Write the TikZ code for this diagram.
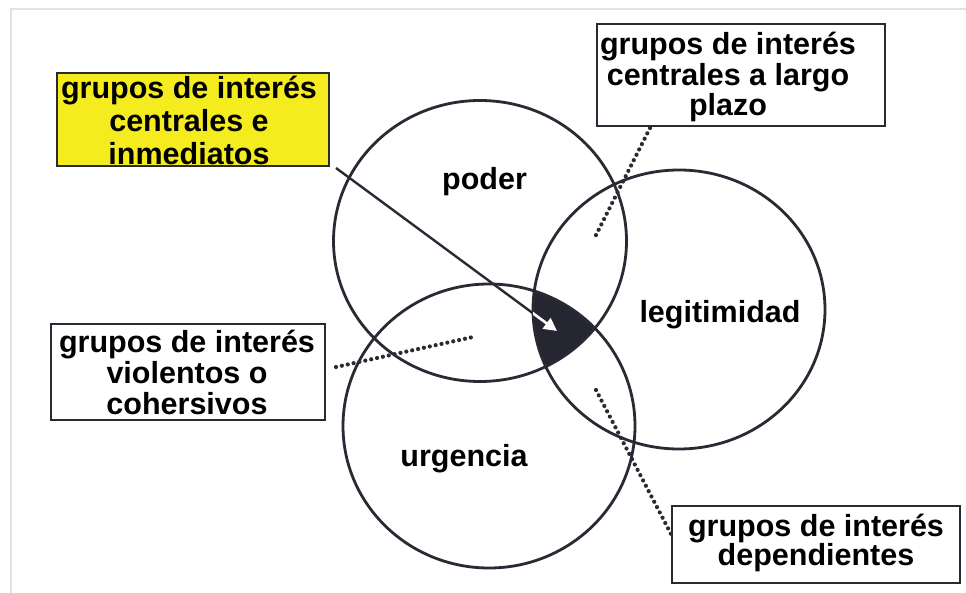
\documentclass[tikz,border=0pt]{standalone}
\usepackage{fontspec}
\setmainfont{Liberation Sans}
\usetikzlibrary{arrows.meta}
\definecolor{linec}{RGB}{42,42,52}
\definecolor{ybox}{RGB}{244,236,30}
\definecolor{darkf}{RGB}{38,38,50}
\definecolor{framec}{RGB}{226,226,230}
\begin{document}
\begin{tikzpicture}[x=1pt,y=-1pt,
  circ/.style={draw=linec, line width=2.8pt},
  box/.style={draw=linec, line width=2pt, inner sep=0pt},
  txt/.style={font=\bfseries\fontsize{30.5}{33}\selectfont, align=center, inner sep=0pt, text=black},
  dotline/.style={draw=linec, line width=4.2pt, line cap=round, dash pattern=on 0pt off 6pt},
  arrowline/.style={draw=linec, line width=2.4pt}]
\useasboundingbox (0,0) rectangle (966,593);
\fill[white] (0,0) rectangle (966,593);
\draw[framec, line width=1.5pt] (11,593) -- (11,9) -- (966,9);

% dark triple intersection
\begin{scope}
  \clip (480,241) ellipse [x radius=146.5pt, y radius=140.5pt];
  \clip (679,309.5) ellipse [x radius=146pt, y radius=139.5pt];
  \fill[darkf] (489,426) ellipse [x radius=146pt, y radius=142pt];
\end{scope}

% circles
\draw[circ] (480,241) ellipse [x radius=146.5pt, y radius=140.5pt];
\draw[circ] (679,309.5) ellipse [x radius=146pt, y radius=139.5pt];
\draw[circ] (489,426) ellipse [x radius=146pt, y radius=142pt];

% circle labels
\node[txt, anchor=base] (poder) at (484.5,190) {poder};
\node[txt, anchor=base] (legit) at (720,323) {legitimidad};
\node[txt, anchor=base] (urg) at (464,466) {urgencia};

% boxes
\node[box, fill=ybox, minimum width=272pt, minimum height=93pt] (yb) at (193,119.5) {};
\node[txt, font=\bfseries\fontsize{30.5}{33}\selectfont] (ybt) at (189,120) {grupos de interés\\centrales e\\inmediatos};

\node[box, minimum width=288pt, minimum height=102pt] (trb) at (741,75) {};
\node[txt, font=\bfseries\fontsize{30.5}{30.5}\selectfont] (trbt) at (728,77) {grupos de interés\\centrales a largo\\plazo};

\node[box, minimum width=274pt, minimum height=96pt] (lb) at (188,372) {};
\node[txt, font=\bfseries\fontsize{30.5}{31}\selectfont] (lbt) at (187,372) {grupos de interés\\violentos o\\cohersivos};

\node[box, minimum width=288pt, minimum height=77pt] (brb) at (816,544.5) {};
\node[txt, font=\bfseries\fontsize{30.5}{28}\selectfont] (brbt) at (816,543) {grupos de interés\\dependientes};

% solid arrow from yellow box to the dark region
\coordinate (a1) at (336,168);
\coordinate (tip) at (557,331);
\draw[arrowline] (a1) -- (tip);
\begin{scope}
  \clip (480,241) ellipse [x radius=146.5pt, y radius=140.5pt];
  \clip (679,309.5) ellipse [x radius=146pt, y radius=139.5pt];
  \clip (489,426) ellipse [x radius=146pt, y radius=142pt];
  \draw[white, line width=2.6pt, -{Triangle[length=13pt,width=13pt]}] (a1) -- (tip);
\end{scope}

% dotted connectors
\coordinate (d1s) at (650,128);
\coordinate (d1e) at (595,237);
\draw[dotline] (d1s) -- (d1e);
\coordinate (d2s) at (336,367);
\coordinate (d2e) at (473,337);
\draw[dotline] (d2s) -- (d2e);
\coordinate (d3s) at (596,390);
\coordinate (d3e) at (671,534);
\draw[dotline] (d3s) -- (d3e);
\end{tikzpicture}
\end{document}
